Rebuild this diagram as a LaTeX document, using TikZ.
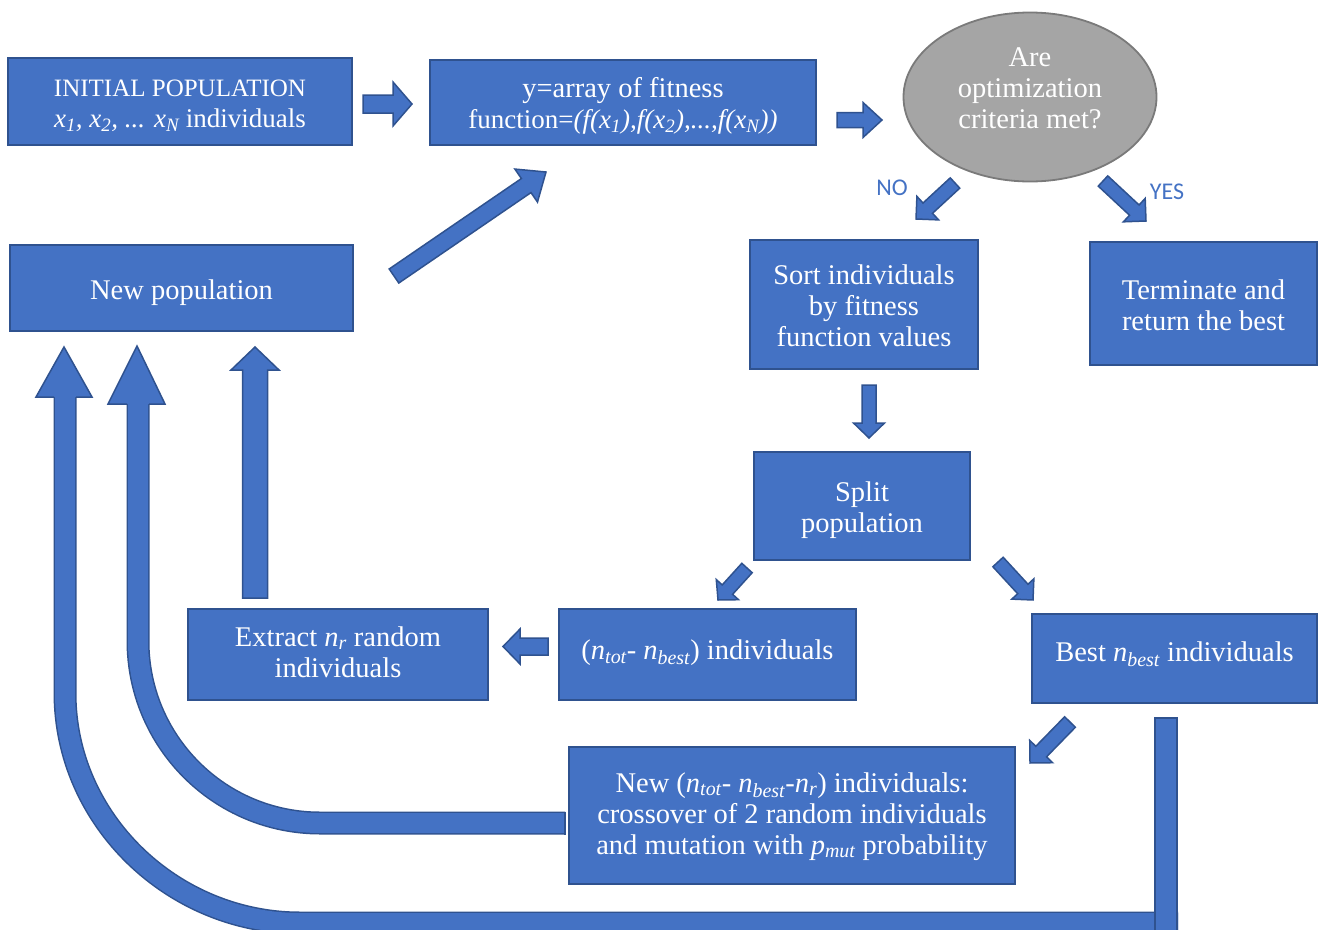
\documentclass[tikz,border=0pt]{standalone}
\usepackage{fontspec}
\setmainfont{Liberation Serif}
\newfontfamily\lblfont{Carlito}
\usetikzlibrary{shapes.geometric}
\definecolor{bfill}{HTML}{4472C4}
\definecolor{bdr}{HTML}{2F528F}
\definecolor{efill}{HTML}{A5A5A5}
\definecolor{ebdr}{HTML}{7A7A7A}
\newcommand\sub[1]{\textsubscript{\itshape #1}}
% centred block of lines, moved up by the optional amount (extents kept)
\newcommand\lines[2][0pt]{\raisebox{#1}[\height][\depth]{\begin{tabular}{@{}c@{}}#2\end{tabular}}}
% block arrow: x1 y1 x2 y2 shaft-width head-width head-length
\newcommand\barr[7]{%
  \pgfmathsetmacro\barrang{atan2(#2-#4,#3-#1)}%
  \pgfmathsetmacro\barrlen{veclen(#3-#1,#4-#2)}%
  \begin{scope}[shift={(#1,#2)},rotate=\barrang]
    \draw[blk] (0,-#5/2) -- ({\barrlen-#7},-#5/2) -- ({\barrlen-#7},-#6/2)
      -- (\barrlen,0) -- ({\barrlen-#7},#6/2) -- ({\barrlen-#7},#5/2) -- (0,#5/2) -- cycle;
  \end{scope}}
\begin{document}
\begin{tikzpicture}[x=1pt,y=-1pt,
  box/.style={draw=bdr, fill=bfill, line width=1.8pt, text=white,
    inner sep=0pt, font=\fontsize{28.5}{31}\selectfont},
  crit/.style={ellipse, draw=ebdr, fill=efill, line width=1.8pt, inner sep=0pt},
  crittext/.style={text=white, align=center, inner sep=0pt, font=\fontsize{28.5}{31}\selectfont},
  lbl/.style={text=bfill, inner sep=0pt, font=\lblfont\fontsize{24}{28}\selectfont},
  blk/.style={draw=bdr, fill=bfill, line width=1.5pt, line join=miter},
  band/.style={draw=bdr, line width=1.5pt, double=bfill, double distance=20pt},
  headfill/.style={fill=bfill},
  headline/.style={draw=bdr, line width=1.5pt, line join=miter}]
\useasboundingbox (0,0) rectangle (1325,929);
\clip (0,0) rectangle (1325,929);

% outer return path: best individuals back to the new population
\draw[band] (1178,923) -- (300,923) .. controls (173,923) and (65,820) .. (65,693) -- (65,397);
\draw[blk] (1155,718) rectangle (1177,945);
\fill[headfill] (36,397) -- (64,347) -- (92,397) -- cycle;
\draw[headline] (54,397) -- (36,397) -- (64,347) -- (92,397) -- (76,397);

% middle return path: offspring back to the new population
\draw[band] (565,823) -- (320,823) .. controls (219.5,823) and (138,741.5) .. (138,641) -- (138,404);
\draw[bdr, line width=1.5pt] (565,811.5) -- (565,834.5);
\fill[headfill] (108,404) -- (137,346) -- (165,404) -- cycle;
\draw[headline] (127,404) -- (108,404) -- (137,346) -- (165,404) -- (149,404);

% process boxes
\node[box, minimum width=344, minimum height=87] (init) at (180,101.5)
  {\lines[-4pt]{{\fontsize{25}{31}\selectfont INITIAL POPULATION}\\{\fontsize{27}{31}\selectfont\textit{x\sub{1}, x\sub{2}, ... x\sub{N}} individuals}}};
\node[box, minimum width=386, minimum height=85] (fit) at (623,102.5)
  {\lines[-4.5pt]{y=array of fitness\\{\fontsize{27}{31}\selectfont function=\textit{(f(x\sub{1}),f(x\sub{2}),...,f(x\sub{N}))}}}};
\node[crit, minimum width=253, minimum height=169] (crit) at (1030,97) {};
\node[crittext] (crittxt) at ([yshift=9pt]crit.center) {Are\\optimization\\criteria met?};
\node[box, minimum width=228, minimum height=129] (sort) at (864,304.5)
  {\lines[-4.5pt]{Sort individuals\\by fitness\\function values}};
\node[box, minimum width=227, minimum height=123] (term) at (1203.5,303.5)
  {\lines[-5pt]{Terminate and\\return the best}};
\node[box, minimum width=343, minimum height=86] (newpop) at (181.5,288)
  {\lines[-5pt]{New population}};
\node[box, minimum width=216, minimum height=108] (split) at (862,506)
  {\lines[-5pt]{Split\\population}};
\node[box, minimum width=297, minimum height=91] (rest) at (707.5,654.5)
  {\lines[1pt]{(\textit{n\sub{tot}}- \textit{n\sub{best}}) individuals}};
\node[box, minimum width=300, minimum height=91] (extract) at (338,654.5)
  {\lines[-1pt]{Extract \textit{n\sub{r}} random\\individuals}};
\node[box, minimum width=285, minimum height=89] (best) at (1174.5,658.5)
  {\lines[3pt]{Best \textit{n\sub{best}} individuals}};
\node[box, minimum width=446, minimum height=137] (cross) at (792,815.5)
  {\lines[-1.5pt]{New (\textit{n\sub{tot}}- \textit{n\sub{best}}-\textit{n\sub{r}}) individuals:\\crossover of 2 random individuals\\and mutation with \textit{p\sub{mut}} probability}};

% decision labels
\node[lbl] (no) at (892,188) {NO};
\node[lbl] (yes) at (1167,192) {YES};

% block arrows between the steps
\barr{363}{104}{412}{104}{18}{44}{19}
\barr{837}{120}{882}{120}{15}{35}{19}
\barr{394}{276}{546}{172}{17}{40}{24}
\barr{955}{183}{916}{219}{14}{32}{16}
\barr{1103}{181}{1146}{221}{14}{32}{16}
\barr{869}{385}{869}{438}{14}{31}{15}
\barr{747}{568}{718}{600}{14}{30}{14}
\barr{998}{562}{1033}{600}{14}{30}{15}
\barr{548}{646.5}{503}{646.5}{17}{35}{17}
\barr{255}{598}{255}{347}{25}{48}{23}
\barr{1070}{722}{1030}{763}{15}{32}{16}
\end{tikzpicture}
\end{document}
